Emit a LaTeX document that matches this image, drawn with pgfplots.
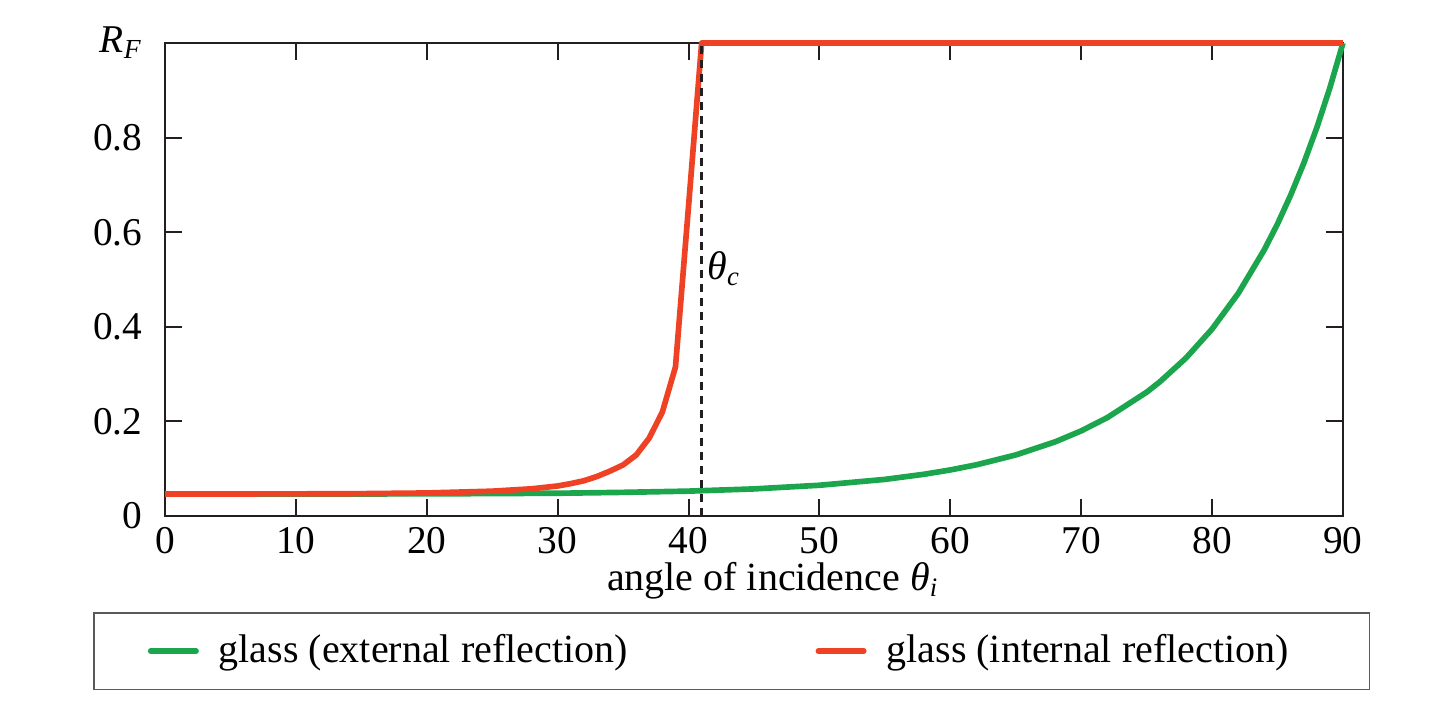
\documentclass[border=0pt]{standalone}
\usepackage{fontspec}
\setmainfont{Liberation Serif}
\usepackage{pgfplots}
\pgfplotsset{compat=1.18}
\definecolor{cgreen}{RGB}{27,166,77}
\definecolor{cred}{RGB}{239,65,35}
\definecolor{axgray}{RGB}{35,31,32}
\definecolor{leggray}{RGB}{90,90,90}
\begin{document}
\begin{tikzpicture}
\begin{axis}[
  at={(0,0)}, anchor=south west,
  scale only axis, width=353.4pt, height=141.9pt,
  xmin=0, xmax=90, ymin=0, ymax=1,
  xtick={0,10,20,30,40,50,60,70,80,90},
  ytick={0,0.2,0.4,0.6,0.8,1},
  yticklabels={0,0.2,0.4,0.6,0.8,{\itshape R}\textsubscript{\itshape F}},
  tick align=inside, major tick length=5.1pt,
  axis line style={line width=0.6pt, color=axgray},
  every tick/.style={line width=0.6pt, color=axgray},
  tick label style={font=\fontsize{11.8}{13}\selectfont, /pgf/number format/assume math mode=true},
  xticklabel style={inner sep=0pt, anchor=north, yshift=-3.3pt},
  yticklabel style={inner sep=0pt, anchor=east, xshift=-6.6pt},
  xlabel={angle of incidence {\itshape θ}\textsubscript{\itshape i}},
  xlabel style={at={(axis description cs:0.5161,0)}, anchor=base, yshift=-22.4pt, inner sep=0pt, font=\fontsize{12}{14}\selectfont},
  clip=false, set layers,
  legend columns=2,
  legend cell align=left,
  legend style={at={(axis description cs:-0.0611,-0.2030)}, anchor=north west,
    draw=leggray, line width=0.5pt, inner xsep=16.2pt, inner ysep=6.5pt,
    nodes={inner sep=0pt}, font=\fontsize{12}{14}\selectfont,
    /tikz/every odd column/.style={column sep=6pt},
    /tikz/every even column/.style={column sep=56.4pt}},
  legend image code/.code={\draw[#1, line cap=round] (0pt,0pt) -- (13.6pt,0pt);},
]
\addplot[cgreen, line width=1.7pt, line join=round] coordinates {
(0,0.0465) (10,0.0465) (20,0.0468) (30,0.0481) (35,0.0500) (40,0.0526)
(45,0.0573) (50,0.0650) (55,0.0774) (58,0.0883) (60,0.0974) (62,0.1083)
(65,0.1291) (68,0.1567) (70,0.1800) (72,0.2081) (75,0.2618) (76,0.2835)
(78,0.3339) (80,0.3954) (82,0.4708) (84,0.5635) (85,0.6177) (86,0.6782)
(87,0.7456) (88,0.8210) (89,0.9054) (90,1.0)
};
\addlegendentry{glass (external reflection)}
\addplot[cred, line width=1.7pt, line join=round] coordinates {
(0,0.0465) (10,0.0468) (15,0.0473) (20,0.0487) (25,0.0525) (28,0.0575)
(30,0.0635) (31,0.0685) (32,0.0745) (33,0.0835) (34,0.095) (35,0.108)
(36,0.129) (37,0.165) (38,0.22) (39,0.315) (40,0.655) (41,1) (90,1)
};
\addlegendentry{glass (internal reflection)\hspace*{8.1pt}}
\addplot[axgray, line width=0.8pt, dash pattern=on 2.5pt off 1.7pt, forget plot] coordinates {(41,0) (41,1)};
\node[anchor=west, inner sep=0pt, font=\fontsize{12}{14}\selectfont] at (axis cs:41.4,0.524) {{\itshape θ}\textsubscript{\itshape c}};
\end{axis}
\pgfresetboundingbox
\useasboundingbox (-49.5pt,-59.7pt) rectangle (382.8pt,154.8pt);
\end{tikzpicture}
\end{document}
